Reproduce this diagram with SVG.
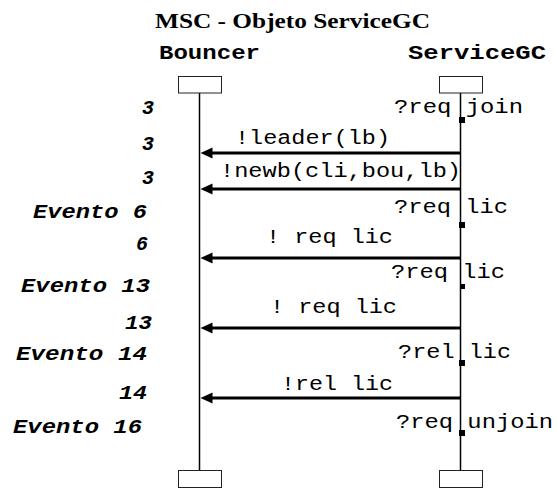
<svg xmlns="http://www.w3.org/2000/svg" width="556" height="490" viewBox="0 0 556 490">
  <style>
    .title { font-family: "Liberation Serif", "Times New Roman", serif; font-weight: bold; font-size: 22px; fill: #000; }
    .inst { font-family: "Liberation Mono", "Courier New", monospace; font-weight: bold; font-size: 20px; fill: #000; }
    .msg { font-family: "Liberation Mono", "Courier New", monospace; font-size: 20px; fill: #000; }
    .ev { font-family: "Liberation Mono", "Courier New", monospace; font-weight: bold; font-style: italic; font-size: 20px; fill: #000; }
    .box { fill: #fff; stroke: #222; stroke-width: 1; }
    .life { stroke: #000; stroke-width: 1.5; }
    .arrow { stroke: #000; stroke-width: 3; fill: none; }
    .head { fill: #000; }
    .mark { fill: #000; }
  </style>

  <text class="title" x="155" y="28" textLength="275" lengthAdjust="spacingAndGlyphs">MSC - Objeto ServiceGC</text>

  <!-- instance: Bouncer -->
  <g id="bouncer">
    <text class="inst" x="159" y="59" textLength="101" lengthAdjust="spacingAndGlyphs">Bouncer</text>
    <line class="life" x1="199.5" y1="93" x2="199.5" y2="470"/>
    <rect class="box" x="178.5" y="76.5" width="43" height="16.5"/>
    <rect class="box" x="178.5" y="470.5" width="43" height="17"/>
  </g>

  <!-- instance: ServiceGC, with its input event markers -->
  <g id="servicegc">
    <text class="inst" x="408" y="59" textLength="138" lengthAdjust="spacingAndGlyphs">ServiceGC</text>
    <line class="life" x1="460.5" y1="93" x2="460.5" y2="470"/>
    <rect class="box" x="439.5" y="76.5" width="43" height="16.5"/>
    <rect class="box" x="439.5" y="470.5" width="43" height="17"/>
    <rect class="mark" x="459" y="117" width="6" height="6"/>
    <rect class="mark" x="459" y="222" width="6" height="6"/>
    <rect class="mark" x="460" y="284" width="5" height="5"/>
    <rect class="mark" x="459" y="360" width="6" height="6"/>
    <rect class="mark" x="459" y="430" width="6" height="6"/>
    <text class="msg" x="394" y="113" textLength="129" lengthAdjust="spacingAndGlyphs">?req join</text>
    <text class="msg" x="394" y="213" textLength="114" lengthAdjust="spacingAndGlyphs">?req lic</text>
    <text class="msg" x="391" y="278" textLength="114" lengthAdjust="spacingAndGlyphs">?req lic</text>
    <text class="msg" x="398" y="358" textLength="113" lengthAdjust="spacingAndGlyphs">?rel lic</text>
    <text class="msg" x="396" y="428" textLength="157" lengthAdjust="spacingAndGlyphs">?req unjoin</text>
  </g>

  <!-- messages ServiceGC -> Bouncer -->
  <g id="connectors">
    <defs>
      <polygon id="tip" class="head" points="0,0 12,-5.5 12,5.5"/>
    </defs>
    <g id="m-leader">
      <line class="arrow" x1="460.5" y1="153" x2="210" y2="153"/>
      <use href="#tip" x="200.5" y="153"/>
      <text class="msg" x="235" y="144" textLength="155" lengthAdjust="spacingAndGlyphs">!leader(lb)</text>
    </g>
    <g id="m-newb">
      <line class="arrow" x1="460.5" y1="189" x2="210" y2="189"/>
      <use href="#tip" x="200.5" y="189"/>
      <text class="msg" x="220" y="177" textLength="241" lengthAdjust="spacingAndGlyphs">!newb(cli,bou,lb)</text>
    </g>
    <g id="m-reqlic-1">
      <line class="arrow" x1="460.5" y1="258" x2="210" y2="258"/>
      <use href="#tip" x="200.5" y="258"/>
      <text class="msg" x="266" y="243" textLength="127" lengthAdjust="spacingAndGlyphs">! req lic</text>
    </g>
    <g id="m-reqlic-2">
      <line class="arrow" x1="460.5" y1="328" x2="210" y2="328"/>
      <use href="#tip" x="200.5" y="328"/>
      <text class="msg" x="270" y="313" textLength="127" lengthAdjust="spacingAndGlyphs">! req lic</text>
    </g>
    <g id="m-rellic">
      <line class="arrow" x1="460.5" y1="398" x2="210" y2="398"/>
      <use href="#tip" x="200.5" y="398"/>
      <text class="msg" x="281" y="390" textLength="112" lengthAdjust="spacingAndGlyphs">!rel lic</text>
    </g>
  </g>

  <!-- event numbering -->
  <g id="events">
    <text class="ev" x="142" y="114" textLength="12" lengthAdjust="spacingAndGlyphs">3</text>
    <text class="ev" x="142" y="150" textLength="12" lengthAdjust="spacingAndGlyphs">3</text>
    <text class="ev" x="142" y="184" textLength="12" lengthAdjust="spacingAndGlyphs">3</text>
    <text class="ev" x="33" y="218" textLength="114" lengthAdjust="spacingAndGlyphs">Evento 6</text>
    <text class="ev" x="136" y="250" textLength="12" lengthAdjust="spacingAndGlyphs">6</text>
    <text class="ev" x="21" y="292" textLength="129" lengthAdjust="spacingAndGlyphs">Evento 13</text>
    <text class="ev" x="125" y="329" textLength="27" lengthAdjust="spacingAndGlyphs">13</text>
    <text class="ev" x="16" y="360" textLength="131" lengthAdjust="spacingAndGlyphs">Evento 14</text>
    <text class="ev" x="119" y="399" textLength="28" lengthAdjust="spacingAndGlyphs">14</text>
    <text class="ev" x="13" y="433" textLength="129" lengthAdjust="spacingAndGlyphs">Evento 16</text>
  </g>
</svg>
